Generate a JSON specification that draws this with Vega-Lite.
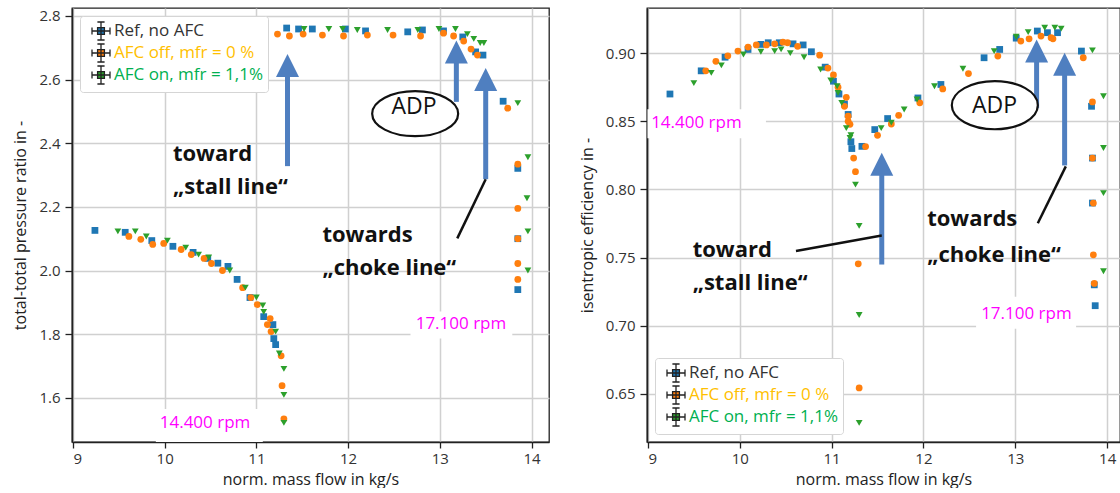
{
  "$schema": "https://vega.github.io/schema/vega-lite/v6.json",
  "padding": {"left": 12, "top": 7, "right": 0, "bottom": 0},
  "background": "white",
  "spacing": 28,
  "datasets": {
    "left_pts": [
      {"series": "Ref, no AFC", "mass_flow": 9.24, "value": 2.126},
      {"series": "Ref, no AFC", "mass_flow": 9.57, "value": 2.12},
      {"series": "Ref, no AFC", "mass_flow": 9.86, "value": 2.094},
      {"series": "Ref, no AFC", "mass_flow": 10.09, "value": 2.076},
      {"series": "Ref, no AFC", "mass_flow": 10.31, "value": 2.057},
      {"series": "Ref, no AFC", "mass_flow": 10.47, "value": 2.038},
      {"series": "Ref, no AFC", "mass_flow": 10.58, "value": 2.023},
      {"series": "Ref, no AFC", "mass_flow": 10.69, "value": 2.013},
      {"series": "Ref, no AFC", "mass_flow": 10.79, "value": 1.972},
      {"series": "Ref, no AFC", "mass_flow": 10.93, "value": 1.915},
      {"series": "Ref, no AFC", "mass_flow": 11.08, "value": 1.855},
      {"series": "Ref, no AFC", "mass_flow": 11.18, "value": 1.83},
      {"series": "Ref, no AFC", "mass_flow": 11.19, "value": 1.786},
      {"series": "Ref, no AFC", "mass_flow": 11.21, "value": 1.767},
      {"series": "Ref, no AFC", "mass_flow": 11.33, "value": 2.762},
      {"series": "Ref, no AFC", "mass_flow": 11.46, "value": 2.759},
      {"series": "Ref, no AFC", "mass_flow": 11.61, "value": 2.759},
      {"series": "Ref, no AFC", "mass_flow": 11.97, "value": 2.759},
      {"series": "Ref, no AFC", "mass_flow": 12.19, "value": 2.753},
      {"series": "Ref, no AFC", "mass_flow": 12.65, "value": 2.75},
      {"series": "Ref, no AFC", "mass_flow": 12.81, "value": 2.756},
      {"series": "Ref, no AFC", "mass_flow": 13.04, "value": 2.753},
      {"series": "Ref, no AFC", "mass_flow": 13.25, "value": 2.734},
      {"series": "Ref, no AFC", "mass_flow": 13.39, "value": 2.687},
      {"series": "Ref, no AFC", "mass_flow": 13.47, "value": 2.677},
      {"series": "Ref, no AFC", "mass_flow": 13.69, "value": 2.532},
      {"series": "Ref, no AFC", "mass_flow": 13.85, "value": 2.321},
      {"series": "Ref, no AFC", "mass_flow": 13.85, "value": 2.1},
      {"series": "Ref, no AFC", "mass_flow": 13.85, "value": 1.94},
      {"series": "AFC off, mfr = 0 %", "mass_flow": 9.61, "value": 2.107},
      {"series": "AFC off, mfr = 0 %", "mass_flow": 9.74, "value": 2.098},
      {"series": "AFC off, mfr = 0 %", "mass_flow": 9.87, "value": 2.082},
      {"series": "AFC off, mfr = 0 %", "mass_flow": 9.99, "value": 2.085},
      {"series": "AFC off, mfr = 0 %", "mass_flow": 10.18, "value": 2.066},
      {"series": "AFC off, mfr = 0 %", "mass_flow": 10.29, "value": 2.05},
      {"series": "AFC off, mfr = 0 %", "mass_flow": 10.43, "value": 2.038},
      {"series": "AFC off, mfr = 0 %", "mass_flow": 10.51, "value": 2.022},
      {"series": "AFC off, mfr = 0 %", "mass_flow": 10.63, "value": 2.0},
      {"series": "AFC off, mfr = 0 %", "mass_flow": 10.85, "value": 1.946},
      {"series": "AFC off, mfr = 0 %", "mass_flow": 10.94, "value": 1.915},
      {"series": "AFC off, mfr = 0 %", "mass_flow": 11.01, "value": 1.893},
      {"series": "AFC off, mfr = 0 %", "mass_flow": 11.12, "value": 1.83},
      {"series": "AFC off, mfr = 0 %", "mass_flow": 11.15, "value": 1.849},
      {"series": "AFC off, mfr = 0 %", "mass_flow": 11.16, "value": 1.808},
      {"series": "AFC off, mfr = 0 %", "mass_flow": 11.27, "value": 1.732},
      {"series": "AFC off, mfr = 0 %", "mass_flow": 11.28, "value": 1.638},
      {"series": "AFC off, mfr = 0 %", "mass_flow": 11.3, "value": 1.534},
      {"series": "AFC off, mfr = 0 %", "mass_flow": 11.23, "value": 2.743},
      {"series": "AFC off, mfr = 0 %", "mass_flow": 11.36, "value": 2.737},
      {"series": "AFC off, mfr = 0 %", "mass_flow": 11.51, "value": 2.743},
      {"series": "AFC off, mfr = 0 %", "mass_flow": 11.72, "value": 2.74},
      {"series": "AFC off, mfr = 0 %", "mass_flow": 11.95, "value": 2.737},
      {"series": "AFC off, mfr = 0 %", "mass_flow": 12.21, "value": 2.74},
      {"series": "AFC off, mfr = 0 %", "mass_flow": 12.49, "value": 2.74},
      {"series": "AFC off, mfr = 0 %", "mass_flow": 12.79, "value": 2.737},
      {"series": "AFC off, mfr = 0 %", "mass_flow": 13.04, "value": 2.746},
      {"series": "AFC off, mfr = 0 %", "mass_flow": 13.15, "value": 2.737},
      {"series": "AFC off, mfr = 0 %", "mass_flow": 13.26, "value": 2.721},
      {"series": "AFC off, mfr = 0 %", "mass_flow": 13.34, "value": 2.696},
      {"series": "AFC off, mfr = 0 %", "mass_flow": 13.41, "value": 2.677},
      {"series": "AFC off, mfr = 0 %", "mass_flow": 13.74, "value": 2.51},
      {"series": "AFC off, mfr = 0 %", "mass_flow": 13.85, "value": 2.334},
      {"series": "AFC off, mfr = 0 %", "mass_flow": 13.85, "value": 2.195},
      {"series": "AFC off, mfr = 0 %", "mass_flow": 13.85, "value": 2.1},
      {"series": "AFC off, mfr = 0 %", "mass_flow": 13.85, "value": 2.022},
      {"series": "AFC off, mfr = 0 %", "mass_flow": 13.85, "value": 1.972},
      {"series": "AFC on, mfr = 1,1%", "mass_flow": 9.49, "value": 2.123},
      {"series": "AFC on, mfr = 1,1%", "mass_flow": 9.68, "value": 2.123},
      {"series": "AFC on, mfr = 1,1%", "mass_flow": 9.8, "value": 2.107},
      {"series": "AFC on, mfr = 1,1%", "mass_flow": 10.03, "value": 2.094},
      {"series": "AFC on, mfr = 1,1%", "mass_flow": 10.23, "value": 2.072},
      {"series": "AFC on, mfr = 1,1%", "mass_flow": 10.37, "value": 2.05},
      {"series": "AFC on, mfr = 1,1%", "mass_flow": 10.48, "value": 2.041},
      {"series": "AFC on, mfr = 1,1%", "mass_flow": 10.71, "value": 2.0},
      {"series": "AFC on, mfr = 1,1%", "mass_flow": 10.88, "value": 1.946},
      {"series": "AFC on, mfr = 1,1%", "mass_flow": 11.0, "value": 1.915},
      {"series": "AFC on, mfr = 1,1%", "mass_flow": 11.07, "value": 1.89},
      {"series": "AFC on, mfr = 1,1%", "mass_flow": 11.08, "value": 1.87},
      {"series": "AFC on, mfr = 1,1%", "mass_flow": 11.21, "value": 1.808},
      {"series": "AFC on, mfr = 1,1%", "mass_flow": 11.25, "value": 1.739},
      {"series": "AFC on, mfr = 1,1%", "mass_flow": 11.3, "value": 1.691},
      {"series": "AFC on, mfr = 1,1%", "mass_flow": 11.3, "value": 1.609},
      {"series": "AFC on, mfr = 1,1%", "mass_flow": 11.3, "value": 1.521},
      {"series": "AFC on, mfr = 1,1%", "mass_flow": 11.52, "value": 2.759},
      {"series": "AFC on, mfr = 1,1%", "mass_flow": 11.79, "value": 2.759},
      {"series": "AFC on, mfr = 1,1%", "mass_flow": 11.94, "value": 2.759},
      {"series": "AFC on, mfr = 1,1%", "mass_flow": 12.1, "value": 2.756},
      {"series": "AFC on, mfr = 1,1%", "mass_flow": 12.43, "value": 2.756},
      {"series": "AFC on, mfr = 1,1%", "mass_flow": 12.76, "value": 2.756},
      {"series": "AFC on, mfr = 1,1%", "mass_flow": 12.99, "value": 2.759},
      {"series": "AFC on, mfr = 1,1%", "mass_flow": 13.17, "value": 2.759},
      {"series": "AFC on, mfr = 1,1%", "mass_flow": 13.3, "value": 2.743},
      {"series": "AFC on, mfr = 1,1%", "mass_flow": 13.37, "value": 2.728},
      {"series": "AFC on, mfr = 1,1%", "mass_flow": 13.44, "value": 2.715},
      {"series": "AFC on, mfr = 1,1%", "mass_flow": 13.48, "value": 2.715},
      {"series": "AFC on, mfr = 1,1%", "mass_flow": 13.85, "value": 2.526},
      {"series": "AFC on, mfr = 1,1%", "mass_flow": 13.96, "value": 2.356},
      {"series": "AFC on, mfr = 1,1%", "mass_flow": 13.95, "value": 2.227},
      {"series": "AFC on, mfr = 1,1%", "mass_flow": 13.96, "value": 2.123},
      {"series": "AFC on, mfr = 1,1%", "mass_flow": 13.96, "value": 2.0}
    ],
    "right_pts": [
      {"series": "Ref, no AFC", "mass_flow": 9.24, "value": 0.87},
      {"series": "Ref, no AFC", "mass_flow": 9.58, "value": 0.887},
      {"series": "Ref, no AFC", "mass_flow": 9.84, "value": 0.897},
      {"series": "Ref, no AFC", "mass_flow": 10.09, "value": 0.9027},
      {"series": "Ref, no AFC", "mass_flow": 10.23, "value": 0.9064},
      {"series": "Ref, no AFC", "mass_flow": 10.31, "value": 0.9076},
      {"series": "Ref, no AFC", "mass_flow": 10.43, "value": 0.9076},
      {"series": "Ref, no AFC", "mass_flow": 10.58, "value": 0.9068},
      {"series": "Ref, no AFC", "mass_flow": 10.69, "value": 0.906},
      {"series": "Ref, no AFC", "mass_flow": 10.78, "value": 0.901},
      {"series": "Ref, no AFC", "mass_flow": 10.93, "value": 0.8897},
      {"series": "Ref, no AFC", "mass_flow": 11.02, "value": 0.8794},
      {"series": "Ref, no AFC", "mass_flow": 11.08, "value": 0.87},
      {"series": "Ref, no AFC", "mass_flow": 11.14, "value": 0.8627},
      {"series": "Ref, no AFC", "mass_flow": 11.18, "value": 0.855},
      {"series": "Ref, no AFC", "mass_flow": 11.21, "value": 0.835},
      {"series": "Ref, no AFC", "mass_flow": 11.22, "value": 0.83},
      {"series": "Ref, no AFC", "mass_flow": 11.33, "value": 0.8316},
      {"series": "Ref, no AFC", "mass_flow": 11.47, "value": 0.8439},
      {"series": "Ref, no AFC", "mass_flow": 11.61, "value": 0.852},
      {"series": "Ref, no AFC", "mass_flow": 11.94, "value": 0.8671},
      {"series": "Ref, no AFC", "mass_flow": 12.19, "value": 0.877},
      {"series": "Ref, no AFC", "mass_flow": 12.66, "value": 0.8966},
      {"series": "Ref, no AFC", "mass_flow": 12.83, "value": 0.9027},
      {"series": "Ref, no AFC", "mass_flow": 13.01, "value": 0.911},
      {"series": "Ref, no AFC", "mass_flow": 13.24, "value": 0.9162},
      {"series": "Ref, no AFC", "mass_flow": 13.35, "value": 0.915},
      {"series": "Ref, no AFC", "mass_flow": 13.46, "value": 0.915},
      {"series": "Ref, no AFC", "mass_flow": 13.72, "value": 0.9015},
      {"series": "Ref, no AFC", "mass_flow": 13.83, "value": 0.861},
      {"series": "Ref, no AFC", "mass_flow": 13.84, "value": 0.823},
      {"series": "Ref, no AFC", "mass_flow": 13.84, "value": 0.79},
      {"series": "Ref, no AFC", "mass_flow": 13.86, "value": 0.73},
      {"series": "Ref, no AFC", "mass_flow": 13.87, "value": 0.7147},
      {"series": "AFC off, mfr = 0 %", "mass_flow": 9.63, "value": 0.887},
      {"series": "AFC off, mfr = 0 %", "mass_flow": 9.74, "value": 0.894},
      {"series": "AFC off, mfr = 0 %", "mass_flow": 9.87, "value": 0.898},
      {"series": "AFC off, mfr = 0 %", "mass_flow": 9.98, "value": 0.9015},
      {"series": "AFC off, mfr = 0 %", "mass_flow": 10.09, "value": 0.9044},
      {"series": "AFC off, mfr = 0 %", "mass_flow": 10.18, "value": 0.906},
      {"series": "AFC off, mfr = 0 %", "mass_flow": 10.29, "value": 0.906},
      {"series": "AFC off, mfr = 0 %", "mass_flow": 10.38, "value": 0.9068},
      {"series": "AFC off, mfr = 0 %", "mass_flow": 10.47, "value": 0.908},
      {"series": "AFC off, mfr = 0 %", "mass_flow": 10.52, "value": 0.9076},
      {"series": "AFC off, mfr = 0 %", "mass_flow": 10.63, "value": 0.905},
      {"series": "AFC off, mfr = 0 %", "mass_flow": 10.87, "value": 0.8985},
      {"series": "AFC off, mfr = 0 %", "mass_flow": 10.96, "value": 0.889},
      {"series": "AFC off, mfr = 0 %", "mass_flow": 11.02, "value": 0.884},
      {"series": "AFC off, mfr = 0 %", "mass_flow": 11.07, "value": 0.875},
      {"series": "AFC off, mfr = 0 %", "mass_flow": 11.16, "value": 0.8676},
      {"series": "AFC off, mfr = 0 %", "mass_flow": 11.14, "value": 0.861},
      {"series": "AFC off, mfr = 0 %", "mass_flow": 11.18, "value": 0.8537},
      {"series": "AFC off, mfr = 0 %", "mass_flow": 11.18, "value": 0.85},
      {"series": "AFC off, mfr = 0 %", "mass_flow": 11.2, "value": 0.8478},
      {"series": "AFC off, mfr = 0 %", "mass_flow": 11.24, "value": 0.823},
      {"series": "AFC off, mfr = 0 %", "mass_flow": 11.26, "value": 0.813},
      {"series": "AFC off, mfr = 0 %", "mass_flow": 11.29, "value": 0.7454},
      {"series": "AFC off, mfr = 0 %", "mass_flow": 11.3, "value": 0.6544},
      {"series": "AFC off, mfr = 0 %", "mass_flow": 11.37, "value": 0.8314},
      {"series": "AFC off, mfr = 0 %", "mass_flow": 11.5, "value": 0.8397},
      {"series": "AFC off, mfr = 0 %", "mass_flow": 11.65, "value": 0.848},
      {"series": "AFC off, mfr = 0 %", "mass_flow": 11.73, "value": 0.8544},
      {"series": "AFC off, mfr = 0 %", "mass_flow": 11.96, "value": 0.8635},
      {"series": "AFC off, mfr = 0 %", "mass_flow": 12.21, "value": 0.8737},
      {"series": "AFC off, mfr = 0 %", "mass_flow": 12.49, "value": 0.885},
      {"series": "AFC off, mfr = 0 %", "mass_flow": 12.81, "value": 0.8978},
      {"series": "AFC off, mfr = 0 %", "mass_flow": 13.06, "value": 0.9088},
      {"series": "AFC off, mfr = 0 %", "mass_flow": 13.15, "value": 0.9105},
      {"series": "AFC off, mfr = 0 %", "mass_flow": 13.28, "value": 0.9125},
      {"series": "AFC off, mfr = 0 %", "mass_flow": 13.39, "value": 0.9113},
      {"series": "AFC off, mfr = 0 %", "mass_flow": 13.41, "value": 0.9105},
      {"series": "AFC off, mfr = 0 %", "mass_flow": 13.74, "value": 0.8966},
      {"series": "AFC off, mfr = 0 %", "mass_flow": 13.84, "value": 0.8642},
      {"series": "AFC off, mfr = 0 %", "mass_flow": 13.84, "value": 0.823},
      {"series": "AFC off, mfr = 0 %", "mass_flow": 13.85, "value": 0.79},
      {"series": "AFC off, mfr = 0 %", "mass_flow": 13.85, "value": 0.752},
      {"series": "AFC off, mfr = 0 %", "mass_flow": 13.86, "value": 0.731},
      {"series": "AFC on, mfr = 1,1%", "mass_flow": 9.5, "value": 0.878},
      {"series": "AFC on, mfr = 1,1%", "mass_flow": 9.69, "value": 0.8855},
      {"series": "AFC on, mfr = 1,1%", "mass_flow": 9.8, "value": 0.891},
      {"series": "AFC on, mfr = 1,1%", "mass_flow": 10.04, "value": 0.899},
      {"series": "AFC on, mfr = 1,1%", "mass_flow": 10.23, "value": 0.901},
      {"series": "AFC on, mfr = 1,1%", "mass_flow": 10.38, "value": 0.9015},
      {"series": "AFC on, mfr = 1,1%", "mass_flow": 10.45, "value": 0.9027},
      {"series": "AFC on, mfr = 1,1%", "mass_flow": 10.55, "value": 0.9},
      {"series": "AFC on, mfr = 1,1%", "mass_flow": 10.7, "value": 0.897},
      {"series": "AFC on, mfr = 1,1%", "mass_flow": 10.88, "value": 0.888},
      {"series": "AFC on, mfr = 1,1%", "mass_flow": 10.99, "value": 0.88},
      {"series": "AFC on, mfr = 1,1%", "mass_flow": 11.06, "value": 0.8757},
      {"series": "AFC on, mfr = 1,1%", "mass_flow": 11.07, "value": 0.8708},
      {"series": "AFC on, mfr = 1,1%", "mass_flow": 11.11, "value": 0.8635},
      {"series": "AFC on, mfr = 1,1%", "mass_flow": 11.16, "value": 0.845},
      {"series": "AFC on, mfr = 1,1%", "mass_flow": 11.21, "value": 0.8397},
      {"series": "AFC on, mfr = 1,1%", "mass_flow": 11.2, "value": 0.8377},
      {"series": "AFC on, mfr = 1,1%", "mass_flow": 11.26, "value": 0.8035},
      {"series": "AFC on, mfr = 1,1%", "mass_flow": 11.3, "value": 0.7733},
      {"series": "AFC on, mfr = 1,1%", "mass_flow": 11.3, "value": 0.7079},
      {"series": "AFC on, mfr = 1,1%", "mass_flow": 11.3, "value": 0.6287},
      {"series": "AFC on, mfr = 1,1%", "mass_flow": 11.54, "value": 0.845},
      {"series": "AFC on, mfr = 1,1%", "mass_flow": 11.65, "value": 0.849},
      {"series": "AFC on, mfr = 1,1%", "mass_flow": 11.79, "value": 0.8586},
      {"series": "AFC on, mfr = 1,1%", "mass_flow": 11.93, "value": 0.866},
      {"series": "AFC on, mfr = 1,1%", "mass_flow": 12.12, "value": 0.8757},
      {"series": "AFC on, mfr = 1,1%", "mass_flow": 12.43, "value": 0.8885},
      {"series": "AFC on, mfr = 1,1%", "mass_flow": 12.77, "value": 0.9015},
      {"series": "AFC on, mfr = 1,1%", "mass_flow": 13.01, "value": 0.912},
      {"series": "AFC on, mfr = 1,1%", "mass_flow": 13.14, "value": 0.9154},
      {"series": "AFC on, mfr = 1,1%", "mass_flow": 13.32, "value": 0.9186},
      {"series": "AFC on, mfr = 1,1%", "mass_flow": 13.43, "value": 0.9186},
      {"series": "AFC on, mfr = 1,1%", "mass_flow": 13.5, "value": 0.918},
      {"series": "AFC on, mfr = 1,1%", "mass_flow": 13.84, "value": 0.902},
      {"series": "AFC on, mfr = 1,1%", "mass_flow": 13.96, "value": 0.8684},
      {"series": "AFC on, mfr = 1,1%", "mass_flow": 13.96, "value": 0.8304},
      {"series": "AFC on, mfr = 1,1%", "mass_flow": 13.96, "value": 0.7973},
      {"series": "AFC on, mfr = 1,1%", "mass_flow": 13.96, "value": 0.74}
    ],
    "left_boxes": [
      {"mass_flow": 9.904, "mass_flow2": 11.07, "value": 1.565, "value2": 1.461},
      {"mass_flow": 12.68, "mass_flow2": 13.79, "value": 1.871, "value2": 1.786}
    ],
    "left_arrows": [
      {"mass_flow": 11.339, "value": 2.328, "value2": 2.644},
      {"mass_flow": 13.18, "value": 2.53, "value2": 2.687},
      {"mass_flow": 13.5, "value": 2.287, "value2": 2.6}
    ],
    "left_lines": [
      {"mass_flow": 13.5, "value": 2.287, "mass_flow2": 13.19, "value2": 2.101}
    ],
    "left_ellipse": [{"mass_flow": 12.731, "value": 2.493, "label": "ADP"}],
    "left_adp": [{"mass_flow": 12.718, "value": 2.4904, "label": "ADP"}],
    "left_notes": [
      {"mass_flow": 10.09, "value": 2.343, "label": "toward"},
      {"mass_flow": 10.09, "value": 2.239, "label": "„stall line“"},
      {"mass_flow": 11.72, "value": 2.091, "label": "towards"},
      {"mass_flow": 11.72, "value": 1.987, "label": "„choke line“"}
    ],
    "left_rpm": [
      {"mass_flow": 10.44, "value": 1.521, "label": "14.400 rpm"},
      {"mass_flow": 13.23, "value": 1.833, "label": "17.100 rpm"}
    ],
    "right_boxes": [
      {"mass_flow": 8.995, "mass_flow2": 10.285, "value": 0.8588, "value2": 0.8375},
      {"mass_flow": 12.573, "mass_flow2": 13.662, "value": 0.7213, "value2": 0.6978}
    ],
    "right_arrows": [
      {"mass_flow": 11.546, "value": 0.7449, "value2": 0.8184},
      {"mass_flow": 13.232, "value": 0.8596, "value2": 0.9015},
      {"mass_flow": 13.537, "value": 0.8176, "value2": 0.8919}
    ],
    "right_lines": [
      {"mass_flow": 10.612, "value": 0.7549, "mass_flow2": 11.546, "value2": 0.7662},
      {"mass_flow": 13.55, "value": 0.8169, "mass_flow2": 13.245, "value2": 0.7752}
    ],
    "right_ellipse": [{"mass_flow": 12.777, "value": 0.8618, "label": "ADP"}],
    "right_adp": [{"mass_flow": 12.773, "value": 0.8561, "label": "ADP"}],
    "right_notes": [
      {"mass_flow": 9.487, "value": 0.7507, "label": "toward"},
      {"mass_flow": 9.487, "value": 0.7265, "label": "„stall line“"},
      {"mass_flow": 12.04, "value": 0.7728, "label": "towards"},
      {"mass_flow": 12.04, "value": 0.747, "label": "„choke line“"}
    ],
    "right_rpm": [
      {"mass_flow": 9.528, "value": 0.8485, "label": "14.400 rpm"},
      {"mass_flow": 13.121, "value": 0.7088, "label": "17.100 rpm"}
    ]
  },
  "resolve": {"scale": {"color": "independent", "x": "independent", "y": "independent"}, "legend": {"color": "independent"}},
  "hconcat": [
    {
      "width": 477,
      "height": 434,
      "encoding": {
        "x": {"field": "mass_flow", "type": "quantitative", "scale": {"domain": [8.99, 14.19], "nice": false, "zero": false}, "axis": {"title": "norm. mass flow in kg/s", "values": [9, 10, 11, 12, 13, 14]}},
        "y": {"field": "value", "type": "quantitative", "scale": {"domain": [1.461, 2.825], "nice": false, "zero": false}, "axis": {"title": "total-total pressure ratio in -", "values": [1.6, 1.8, 2.0, 2.2, 2.4, 2.6, 2.8], "format": ".1f"}}
      },
      "layer": [
        {"data": {"name": "left_boxes"}, "mark": {"type": "rect", "fill": "white"}, "encoding": {"x2": {"field": "mass_flow2"}, "y2": {"field": "value2"}}},
        {
          "data": {"name": "left_pts"},
          "mark": {"type": "point", "filled": true, "opacity": 1, "size": 46},
          "encoding": {
            "color": {"field": "series", "type": "nominal", "scale": {"domain": ["Ref, no AFC", "AFC off, mfr = 0 %", "AFC on, mfr = 1,1%"], "range": ["#1f77b4", "#ff7f0e", "#2ca02c"]},
              "legend": {"title": null, "orient": "top-left", "offset": 8,
                "labelColor": {"expr": "datum.value == 'Ref, no AFC' ? '#333333' : datum.value == 'AFC off, mfr = 0 %' ? '#FFC000' : '#00B050'"}}},
            "shape": {"condition": [{"test": "datum.series == 'Ref, no AFC'", "value": "square"}, {"test": "datum.series == 'AFC off, mfr = 0 %'", "value": "circle"}], "value": "triangle-down"}
          }
        },
        {"data": {"name": "left_arrows"}, "mark": {"type": "rule", "color": "#4F7FC0", "strokeWidth": 5}, "encoding": {"y2": {"field": "value2"}}},
        {"data": {"name": "left_arrows"}, "mark": {"type": "point", "filled": true, "color": "#4F7FC0", "opacity": 1, "size": 529, "shape": "M0,-1L1,1L-1,1Z"}, "encoding": {"y": {"field": "value2", "type": "quantitative"}}},
        {"data": {"name": "left_lines"}, "mark": {"type": "rule", "color": "#111", "strokeWidth": 2.5}, "encoding": {"x2": {"field": "mass_flow2"}, "y2": {"field": "value2"}}},
        {"data": {"name": "left_ellipse"}, "mark": {"type": "point", "filled": false, "fill": "white", "fillOpacity": 1, "stroke": "#111", "strokeWidth": 2.2, "opacity": 1, "size": 7396, "shape": "M1,0C1,0.29,0.552,0.525,0,0.525C-0.552,0.525,-1,0.29,-1,0C-1,-0.29,-0.552,-0.525,0,-0.525C0.552,-0.525,1,-0.29,1,0Z"}},
        {"data": {"name": "left_adp"}, "mark": {"type": "text", "font": "Open Sans", "fontSize": 23, "color": "#111", "align": "center", "baseline": "alphabetic"}, "encoding": {"text": {"field": "label"}}},
        {"data": {"name": "left_notes"}, "mark": {"type": "text", "font": "Open Sans", "fontSize": 22, "fontWeight": "bold", "color": "#111", "align": "left", "baseline": "alphabetic"}, "encoding": {"text": {"field": "label"}}},
        {"data": {"name": "left_rpm"}, "mark": {"type": "text", "font": "Open Sans", "fontSize": 17, "color": "#FF00FF", "align": "center", "baseline": "middle"}, "encoding": {"text": {"field": "label"}}}
      ]
    },
    {
      "width": 473,
      "height": 434,
      "encoding": {
        "x": {"field": "mass_flow", "type": "quantitative", "scale": {"domain": [8.99, 14.14], "nice": false, "zero": false}, "axis": {"title": "norm. mass flow in kg/s", "values": [9, 10, 11, 12, 13, 14]}},
        "y": {"field": "value", "type": "quantitative", "scale": {"domain": [0.6147, 0.9331], "nice": false, "zero": false}, "axis": {"title": "isentropic efficiency in -", "values": [0.65, 0.7, 0.75, 0.8, 0.85, 0.9], "format": ".2f"}}
      },
      "layer": [
        {"data": {"name": "right_boxes"}, "mark": {"type": "rect", "fill": "white"}, "encoding": {"x2": {"field": "mass_flow2"}, "y2": {"field": "value2"}}},
        {
          "data": {"name": "right_pts"},
          "mark": {"type": "point", "filled": true, "opacity": 1, "size": 46},
          "encoding": {
            "color": {"field": "series", "type": "nominal", "scale": {"domain": ["Ref, no AFC", "AFC off, mfr = 0 %", "AFC on, mfr = 1,1%"], "range": ["#1f77b4", "#ff7f0e", "#2ca02c"]},
              "legend": {"title": null, "orient": "bottom-left", "offset": 8,
                "labelColor": {"expr": "datum.value == 'Ref, no AFC' ? '#333333' : datum.value == 'AFC off, mfr = 0 %' ? '#FFC000' : '#00B050'"}}},
            "shape": {"condition": [{"test": "datum.series == 'Ref, no AFC'", "value": "square"}, {"test": "datum.series == 'AFC off, mfr = 0 %'", "value": "circle"}], "value": "triangle-down"}
          }
        },
        {"data": {"name": "right_arrows"}, "mark": {"type": "rule", "color": "#4F7FC0", "strokeWidth": 5}, "encoding": {"y2": {"field": "value2"}}},
        {"data": {"name": "right_arrows"}, "mark": {"type": "point", "filled": true, "color": "#4F7FC0", "opacity": 1, "size": 529, "shape": "M0,-1L1,1L-1,1Z"}, "encoding": {"y": {"field": "value2", "type": "quantitative"}}},
        {"data": {"name": "right_lines"}, "mark": {"type": "rule", "color": "#111", "strokeWidth": 2.5}, "encoding": {"x2": {"field": "mass_flow2"}, "y2": {"field": "value2"}}},
        {"data": {"name": "right_ellipse"}, "mark": {"type": "point", "filled": false, "fill": "white", "fillOpacity": 1, "stroke": "#111", "strokeWidth": 2.2, "opacity": 1, "size": 7396, "shape": "M1,0C1,0.31,0.552,0.56,0,0.56C-0.552,0.56,-1,0.31,-1,0C-1,-0.31,-0.552,-0.56,0,-0.56C0.552,-0.56,1,-0.31,1,0Z"}},
        {"data": {"name": "right_adp"}, "mark": {"type": "text", "font": "Open Sans", "fontSize": 23, "color": "#111", "align": "center", "baseline": "alphabetic"}, "encoding": {"text": {"field": "label"}}},
        {"data": {"name": "right_notes"}, "mark": {"type": "text", "font": "Open Sans", "fontSize": 22, "fontWeight": "bold", "color": "#111", "align": "left", "baseline": "alphabetic"}, "encoding": {"text": {"field": "label"}}},
        {"data": {"name": "right_rpm"}, "mark": {"type": "text", "font": "Open Sans", "fontSize": 17, "color": "#FF00FF", "align": "center", "baseline": "middle"}, "encoding": {"text": {"field": "label"}}}
      ]
    }
  ],
  "config": {
    "view": {"stroke": "#222", "strokeWidth": 1.3},
    "axis": {
      "grid": true, "gridColor": "#d0d0d0", "gridWidth": 1.5,
      "domainColor": "#222", "domainWidth": 1.6,
      "tickColor": "#222", "tickSize": 7, "tickWidth": 1.3,
      "labelFont": "Open Sans", "labelFontSize": 15, "labelColor": "#333", "labelPadding": 5,
      "titleFont": "Open Sans", "titleFontSize": 16, "titleFontWeight": "normal", "titleColor": "#222", "titlePadding": 10
    },
    "axisX": {"labelPadding": 3, "titlePadding": 5, "tickSize": 6},
    "legend": {
      "padding": 5, "strokeColor": "#d5d5d5", "fillColor": "white", "cornerRadius": 3,
      "labelFont": "Open Sans", "labelFontSize": 17, "labelOffset": 3, "labelLimit": 300,
      "symbolType": "M-1,0H1M0,-1V1M-1,-0.4V0.4M1,-0.4V0.4M-0.4,-1H0.4M-0.4,1H0.4M-0.38,-0.38H0.38V0.38H-0.38Z",
      "symbolSize": 324, "symbolStrokeColor": "#222", "symbolStrokeWidth": 1.3, "symbolOffset": 6,
      "rowPadding": -3
    }
  }
}
